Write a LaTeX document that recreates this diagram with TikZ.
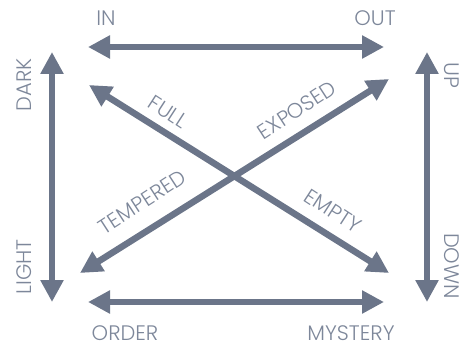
\documentclass[tikz,border=0pt]{standalone}
\usepackage{fontspec}
\setmainfont{Poppins}[UprightFont={* Light}]
\usetikzlibrary{arrows.meta}
\definecolor{arrowc}{HTML}{6B7589}
\definecolor{textc}{HTML}{7D879A}
\tikzset{
  dblarrow/.style={draw=arrowc, line width=6.5pt, {Triangle[length=22pt,width=22pt]}-{Triangle[length=22pt,width=22pt]}},
  lbl/.style={text=textc, font=\fontsize{21}{21}\selectfont, inner sep=0pt}
}
\begin{document}
\begin{tikzpicture}[x=1pt,y=-1pt]
\useasboundingbox (0,0) rectangle (462,347);
\coordinate (tl) at (88,47);
\coordinate (tr) at (384,47);
\coordinate (bl) at (88,302);
\coordinate (br) at (384,302);
\coordinate (lt) at (52,52);
\coordinate (lb) at (52,302);
\coordinate (rt) at (427,52);
\coordinate (rb) at (427,302);
\coordinate (full) at (89,85);
\coordinate (empty) at (389,273);
\coordinate (temp) at (80,273);
\coordinate (expo) at (389,79);
\draw[dblarrow] (tl) -- (tr);
\draw[dblarrow] (bl) -- (br);
\draw[dblarrow] (lt) -- (lb);
\draw[dblarrow] (rt) -- (rb);
\draw[dblarrow] (full) -- (empty);
\draw[dblarrow] (temp) -- (expo);
\node[lbl] (in) at (106,18) {IN};
\node[lbl] (out) at (375,18) {OUT};
\node[lbl] (order) at (125,333) {ORDER};
\node[lbl] (mystery) at (351,333) {MYSTERY};
\node[lbl, rotate=90] (dark) at (24,85) {DARK};
\node[lbl, rotate=90] (light) at (24,267) {LIGHT};
\node[lbl, rotate=-90] (up) at (452,75) {UP};
\node[lbl, rotate=-90] (down) at (452,266) {DOWN};
\node[lbl, rotate=-33] (fulll) at (168,112) {FULL};
\node[lbl, rotate=33] (expl) at (297,110) {EXPOSED};
\node[lbl, rotate=33] (templ) at (142,202) {TEMPERED};
\node[lbl, rotate=-33] (emptl) at (333,211) {EMPTY};
\end{tikzpicture}
\end{document}
